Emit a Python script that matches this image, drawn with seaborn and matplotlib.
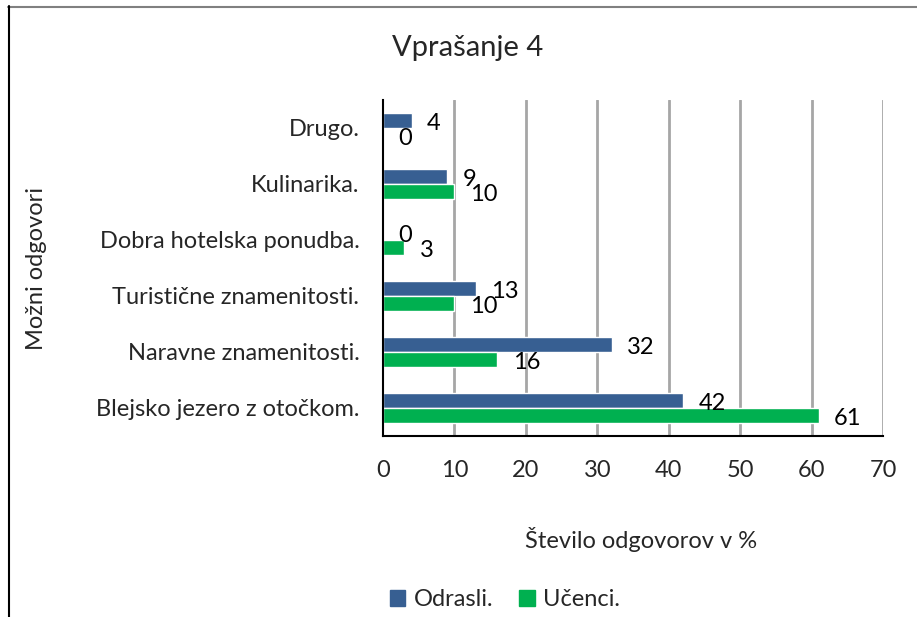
import matplotlib
matplotlib.use("Agg")
import matplotlib.pyplot as plt
import seaborn as sns
import pandas as pd
from matplotlib.lines import Line2D
from matplotlib.ticker import FixedLocator

categories = ["Drugo.", "Kulinarika.", "Dobra hotelska ponudba.",
              "Turistične znamenitosti.", "Naravne znamenitosti.",
              "Blejsko jezero z otočkom."]
odrasli = [4, 9, 0, 13, 32, 42]
ucenci = [0, 10, 3, 10, 16, 61]
series = ["Odrasli.", "Učenci."]
colors = ["#375F92", "#00B050"]
xticks = [0, 10, 20, 30, 40, 50, 60, 70]

df = pd.DataFrame({
    "cat": categories * 2,
    "val": odrasli + ucenci,
    "ser": [series[0]] * len(categories) + [series[1]] * len(categories),
})

sns.set_theme(style="white")
plt.rcParams["font.family"] = ["Lato", "DejaVu Sans"]
FS = 17

fig = plt.figure(figsize=(9.17, 6.17), dpi=100)
ax = fig.add_axes([383 / 917, 1 - 436 / 617, 500 / 917, 336 / 617])

sns.barplot(data=df, y="cat", x="val", hue="ser", order=categories,
            hue_order=series, palette=colors, orient="h", width=0.54,
            ax=ax, legend=False, saturation=1)

ax.set_xlim(0, 70)
ax.set_ylim(len(categories) - 0.5, -0.5)
ax.set_xticks(xticks)
ax.set_xticklabels([str(t) for t in xticks], fontsize=FS)
ax.tick_params(axis="x", direction="out", length=6, width=1.5, color="black", pad=11)
ax.tick_params(axis="y", which="major", length=0, pad=17, labelsize=FS)
ax.yaxis.set_minor_locator(FixedLocator([i - 0.5 for i in range(len(categories) + 1)]))
ax.tick_params(axis="y", which="minor", direction="out", length=5, width=1.5, color="black")

ax.grid(False)
for t in xticks[1:]:
    ax.axvline(t, color="#a6a6a6", lw=2, zorder=0)

for s in ["top", "right"]:
    ax.spines[s].set_visible(False)
for s in ["left", "bottom"]:
    ax.spines[s].set_color("black")
    ax.spines[s].set_linewidth(1.5)

# data labels
for cont, vals in zip(ax.containers, [odrasli, ucenci]):
    for bar, v in zip(cont, vals):
        y = bar.get_y() + bar.get_height() / 2
        ax.annotate(str(v), (bar.get_width(), y), xytext=(11, -2),
                    textcoords="offset points", ha="left", va="center",
                    fontsize=FS, color="black", annotation_clip=False)

ax.set_ylabel("Možni odgovori", fontsize=FS)
ax.yaxis.set_label_coords(-336 / 500, 0.5)
ax.set_xlabel("Število odgovorov v %", fontsize=FS)
ax.xaxis.set_label_coords(258 / 500, -91 / 336)

fig.text(468 / 917, 1 - 48 / 617, "Vprašanje 4", ha="center", va="center", fontsize=21)

handles = [plt.Rectangle((0, 0), 1, 1, color=c) for c in colors]
fig.legend(handles, series, loc="center", bbox_to_anchor=(505 / 917, 1 - 600 / 617),
           ncol=2, frameon=False, fontsize=FS, handlelength=0.65, handleheight=0.65,
           columnspacing=1.1, handletextpad=0.35)

# chart border
fig.add_artist(Line2D([8 / 917, 1], [1 - 6.5 / 617] * 2, color="#808080", lw=1.5,
                      transform=fig.transFigure))
fig.add_artist(Line2D([8.5 / 917] * 2, [0, 1 - 6 / 617], color="black", lw=1.5,
                      transform=fig.transFigure))

fig.savefig("out.png", dpi=100)
